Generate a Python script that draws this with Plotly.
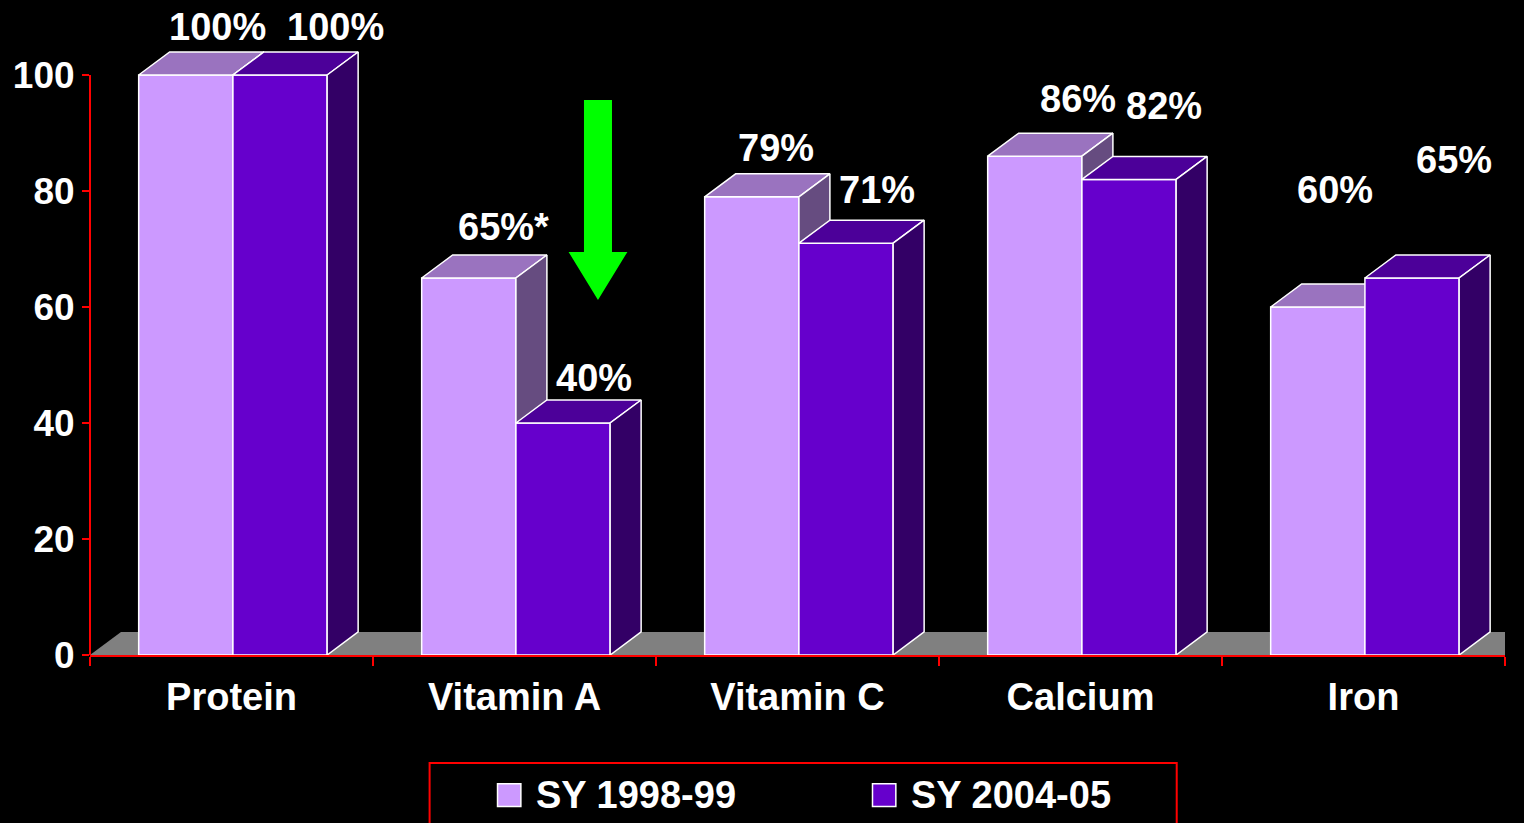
import plotly.graph_objects as go

########################## DATA #######################################

nutrients = ["Protein", "Vitamin A", "Vitamin C", "Calcium", "Iron"]
sy_1998 = [100, 65, 79, 86, 60]
sy_2004 = [100, 40, 71, 82, 65]
series_names = ["SY 1998-99", "SY 2004-05"]
label_marks_1998 = ["", "*", "", "", ""]
label_marks_2004 = ["", "", "", "", ""]

# label heights (value units) as placed on the slide
label_y_1998 = [108.2, 73.8, 87.4, 95.9, 80.2]
label_y_2004 = [108.2, 47.8, 80.2, 94.7, 85.3]
# label x shift from bar front centre (category units)
label_dx_1998 = [0.118, 0.127, 0.092, 0.159, 0.067]
label_dx_2004 = [0.201, 0.113, 0.113, 0.127, 0.155]

y_ticks = [0, 20, 40, 60, 80, 100]

########################## STYLE #######################################

light_front = "#cc99ff"
light_top = "#9a73bf"
light_side = "#664c80"
dark_front = "#6600cc"
dark_top = "#4c0099"
dark_side = "#330066"
floor_color = "#808080"
axis_red = "#ff0000"

bar_w = 0.333       # category units
bar_shift = 0.005   # bars sit a hair right of the category centre
depth_x = 0.1095    # category units
depth_y = 3.97      # value units
y_max = 112.07

FONT = "Liberation Sans"

########################## GEOMETRY HELPERS #############################


def faces(values, side):
    front_x, front_y, top_x, top_y, side_x, side_y = [], [], [], [], [], []
    for i, h in enumerate(values):
        x0 = i + bar_shift - bar_w if side == 0 else i + bar_shift
        x1 = x0 + bar_w
        front_x += [x0, x1, x1, x0, x0, None]
        front_y += [0, 0, h, h, 0, None]
        top_x += [x0, x1, x1 + depth_x, x0 + depth_x, x0, None]
        top_y += [h, h, h + depth_y, h + depth_y, h, None]
        side_x += [x1, x1 + depth_x, x1 + depth_x, x1, x1, None]
        side_y += [0, depth_y, h + depth_y, h, 0, None]
    return (front_x, front_y), (top_x, top_y), (side_x, side_y)


def poly(xy, color):
    return go.Scatter(
        x=xy[0],
        y=xy[1],
        mode="lines",
        fill="toself",
        fillcolor=color,
        line=dict(color="white", width=1.5),
        hoverinfo="skip",
        showlegend=False,
    )


fig = go.Figure()

# floor
n = len(nutrients)
fig.add_trace(
    go.Scatter(
        x=[-0.5, -0.5 + depth_x, n - 0.5 + depth_x, n - 0.5, -0.5],
        y=[0, depth_y, depth_y, 0, 0],
        mode="lines",
        fill="toself",
        fillcolor=floor_color,
        line=dict(width=0, color=floor_color),
        hoverinfo="skip",
        showlegend=False,
    )
)

for vals, s, cols in [
    (sy_1998, 0, (light_front, light_top, light_side)),
    (sy_2004, 1, (dark_front, dark_top, dark_side)),
]:
    fr, tp, sd = faces(vals, s)
    fig.add_trace(poly(fr, cols[0]))
    fig.add_trace(poly(tp, cols[1]))
    fig.add_trace(poly(sd, cols[2]))

# value labels
for i in range(n):
    fig.add_annotation(
        x=i - bar_w / 2 + label_dx_1998[i], y=label_y_1998[i],
        text=f"{sy_1998[i]}%{label_marks_1998[i]}", showarrow=False,
        font=dict(size=38, color="white"),
    )
    fig.add_annotation(
        x=i + bar_w / 2 + label_dx_2004[i], y=label_y_2004[i],
        text=f"{sy_2004[i]}%{label_marks_2004[i]}", showarrow=False,
        font=dict(size=38, color="white"),
    )

# green arrow between Vitamin A bars
ax, a_top, a_neck, a_tip = 1.295, 95.7, 69.5, 61.2
shaft, head = 0.0495, 0.104
fig.add_shape(
    type="path",
    xref="x", yref="y",
    path=(f"M {ax - shaft},{a_top} L {ax + shaft},{a_top} L {ax + shaft},{a_neck} "
          f"L {ax + head},{a_neck} L {ax},{a_tip} L {ax - head},{a_neck} "
          f"L {ax - shaft},{a_neck} Z"),
    fillcolor="#00ff00",
    line=dict(width=0),
)

# y axis line (only up to 100)
fig.add_shape(
    type="line", xref="paper", yref="y", x0=0, x1=0, y0=0, y1=y_ticks[-1],
    line=dict(color=axis_red, width=2), layer="above",
)

# legend box drawn on the slide below the axis (paper coords)
fig.add_shape(
    type="rect", xref="paper", yref="paper",
    x0=0.240, x1=0.768, y0=-0.29, y1=-0.166,
    line=dict(color=axis_red, width=2), fillcolor="black", layer="above",
)
for k, (name, col) in enumerate(zip(series_names, [light_front, dark_front])):
    sx = 0.288 + k * 0.265
    fig.add_shape(
        type="rect", xref="paper", yref="paper",
        x0=sx, x1=sx + 0.0165, y0=-0.233, y1=-0.198,
        line=dict(color="white", width=1.5), fillcolor=col, layer="above",
    )
    fig.add_annotation(
        xref="paper", yref="paper", x=sx + 0.026, y=-0.216,
        xanchor="left", yanchor="middle", text=name, showarrow=False,
        font=dict(size=38, color="white"),
    )

fig.update_xaxes(
    range=[-0.5, n - 0.5],
    tickvals=list(range(n)),
    ticktext=nutrients,
    ticks="",
    ticklabelstandoff=7,
    tickfont=dict(size=38, color="white"),
    showgrid=False,
    zeroline=False,
    showline=True,
    linecolor=axis_red,
    linewidth=2,
    minor=dict(tickvals=[i - 0.5 for i in range(n + 1)], ticks="outside",
               ticklen=9, tickwidth=2, tickcolor=axis_red),
    fixedrange=True,
)

fig.update_yaxes(
    range=[0, y_max],
    tickvals=y_ticks,
    ticks="outside",
    ticklen=7,
    tickwidth=2,
    tickcolor=axis_red,
    tickfont=dict(size=37, color="white"),
    showgrid=False,
    zeroline=False,
    showline=False,
    fixedrange=True,
)

fig.update_layout(
    width=1524,
    height=823,
    paper_bgcolor="black",
    plot_bgcolor="black",
    font=dict(family=FONT, weight="bold", color="white"),
    margin=dict(l=90, r=19, t=5, b=168),
    showlegend=False,
)

fig.write_html(
    "out.html",
    config={"displayModeBar": False},
    post_script="document.body.style.margin='0';document.body.style.overflow='hidden';",
)
